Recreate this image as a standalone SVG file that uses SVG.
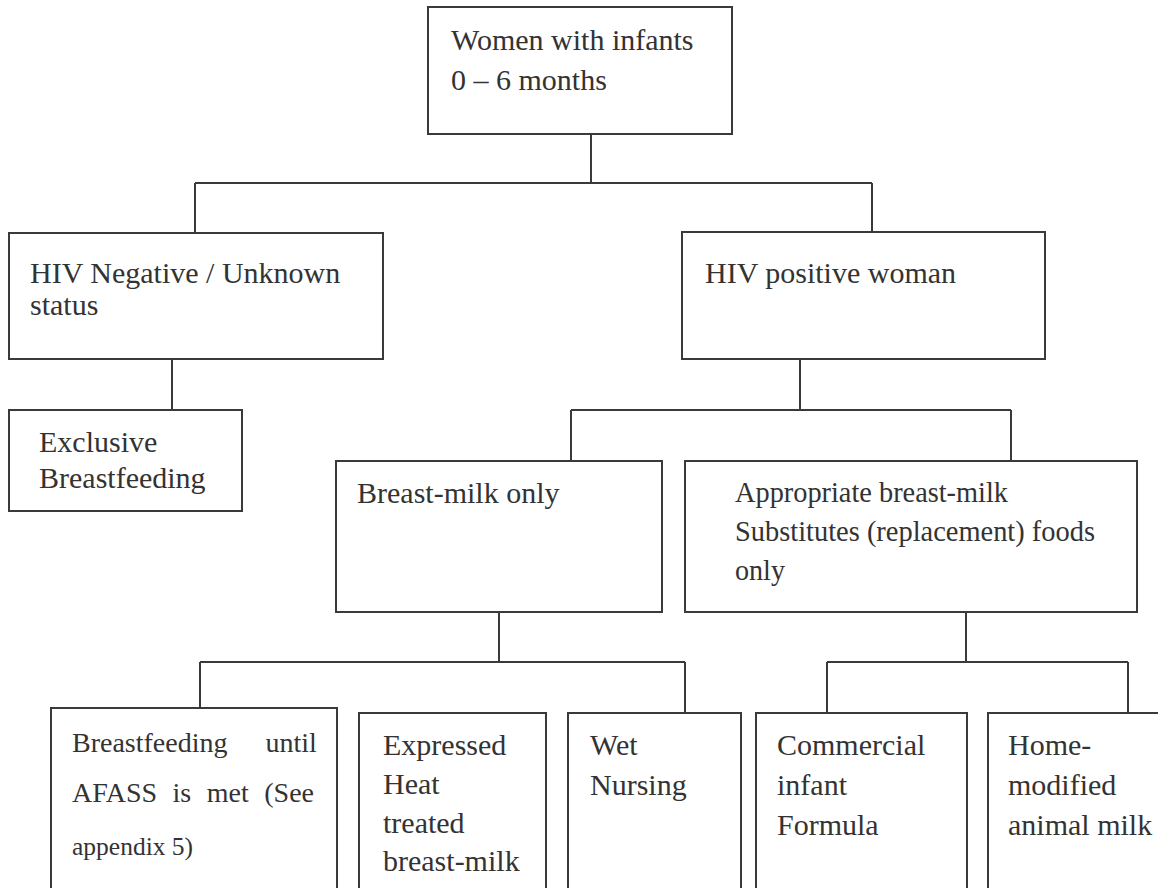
<svg xmlns="http://www.w3.org/2000/svg" width="1158" height="888" viewBox="0 0 1158 888">
<style>
.box{fill:#fff;stroke:#3a3a3a;stroke-width:2}
.ln{fill:none;stroke:#3a3a3a;stroke-width:2}
.t{font-family:"Liberation Serif","Times New Roman",serif;font-size:30px;fill:#333}
.s{font-size:28px}
</style>
<rect width="1158" height="888" fill="#fff"/>
<g id="connectors">
<path class="ln" d="M591 134V183M195 183H872M195 183V233M872 183V232"/>
<path class="ln" d="M172 359V410"/>
<path class="ln" d="M800 359V410M571 410H1011M571 410V461M1011 410V461"/>
<path class="ln" d="M499 612V662M200 662H685M200 662V708M685 662V713"/>
<path class="ln" d="M966 612V662M827 662H1128M827 662V713M1128 662V713"/>
</g>
<g id="n-root">
<rect class="box" x="428" y="7" width="304" height="127"/>
<text class="t" x="451" y="50">Women with infants</text>
<text class="t" x="451" y="90">0 – 6 months</text>
</g>
<g id="n-neg">
<rect class="box" x="9" y="233" width="374" height="126"/>
<text class="t" x="30" y="283">HIV Negative / Unknown</text>
<text class="t" x="30" y="315">status</text>
</g>
<g id="n-excl">
<rect class="box" x="9" y="410" width="233" height="101"/>
<text class="t" x="39" y="452">Exclusive</text>
<text class="t" x="39" y="488">Breastfeeding</text>
</g>
<g id="n-pos">
<rect class="box" x="682" y="232" width="363" height="127"/>
<text class="t" x="705" y="283">HIV positive woman</text>
</g>
<g id="n-bmonly">
<rect class="box" x="336" y="461" width="326" height="151"/>
<text class="t" x="357" y="503">Breast-milk only</text>
</g>
<g id="n-subst">
<rect class="box" x="685" y="461" width="452" height="151"/>
<text class="t" x="735" y="502" textLength="273" lengthAdjust="spacingAndGlyphs">Appropriate breast-milk</text>
<text class="t" x="735" y="541" textLength="360" lengthAdjust="spacingAndGlyphs">Substitutes (replacement) foods</text>
<text class="t" x="735" y="580" textLength="50" lengthAdjust="spacingAndGlyphs">only</text>
</g>
<g id="n-bfuntil">
<rect class="box" x="51" y="708" width="286" height="200"/>
<text class="t s" x="72" y="752" word-spacing="31">Breastfeeding until</text>
<text class="t s" x="72" y="802" word-spacing="8.5">AFASS is met (See</text>
<text class="t" x="72" y="855" style="font-size:25.5px">appendix 5)</text>
</g>
<g id="n-expressed">
<rect class="box" x="359" y="713" width="187" height="200"/>
<text class="t" x="383" y="755">Expressed</text>
<text class="t" x="383" y="794">Heat</text>
<text class="t" x="383" y="833">treated</text>
<text class="t" x="383" y="871">breast-milk</text>
</g>
<g id="n-wet">
<rect class="box" x="568" y="713" width="173" height="200"/>
<text class="t" x="590" y="755">Wet</text>
<text class="t" x="590" y="795">Nursing</text>
</g>
<g id="n-formula">
<rect class="box" x="756" y="713" width="211" height="200"/>
<text class="t" x="777" y="755">Commercial</text>
<text class="t" x="777" y="795">infant</text>
<text class="t" x="777" y="835">Formula</text>
</g>
<g id="n-animal">
<rect class="box" x="988" y="713" width="220" height="200"/>
<text class="t" x="1008" y="755">Home-</text>
<text class="t" x="1008" y="795">modified</text>
<text class="t" x="1008" y="835">animal milk</text>
</g>
</svg>
